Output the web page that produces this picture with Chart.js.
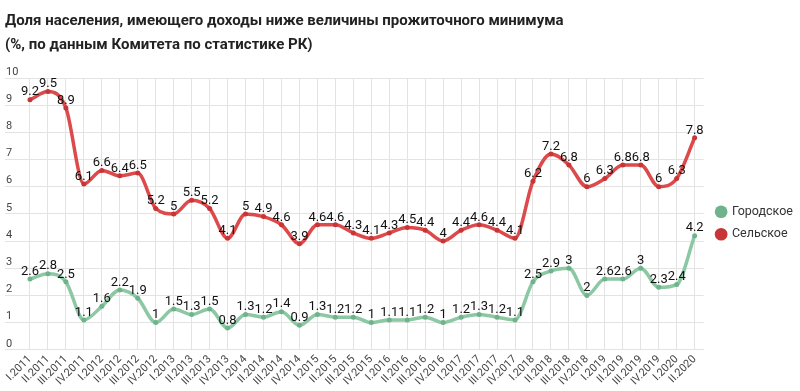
<!DOCTYPE html>
<html lang="ru">
<head>
  <meta charset="UTF-8">
  <title>Доля населения ниже прожиточного минимума</title>
  <script src="https://cdn.jsdelivr.net/npm/chart.js"></script>
  <style>
    body { margin: 0; background: #fff; }
    #wrap { width: 800px; height: 391px; }
  </style>
</head>
<body>
  <div id="wrap"><canvas id="myChart" width="800" height="391"></canvas></div>

  <script>
    // Quarters I.2011 .. II.2020
    const quarters = [
      'I.2011', 'II.2011', 'III.2011', 'IV.2011',
      'I.2012', 'II.2012', 'III.2012', 'IV.2012',
      'I.2013', 'II.2013', 'III.2013', 'IV.2013',
      'I.2014', 'II.2014', 'III.2014', 'IV.2014',
      'I.2015', 'II.2015', 'III.2015', 'IV.2015',
      'I.2016', 'II.2016', 'III.2016', 'IV.2016',
      'I.2017', 'II.2017', 'III.2017', 'IV.2017',
      'I.2018', 'II.2018', 'III.2018', 'IV.2018',
      'I.2019', 'II.2019', 'III.2019', 'IV.2019',
      'I.2020', 'II.2020'
    ];

    const urban = [
      2.6, 2.8, 2.5, 1.1,
      1.6, 2.2, 1.9, 1,
      1.5, 1.3, 1.5, 0.8,
      1.3, 1.2, 1.4, 0.9,
      1.3, 1.2, 1.2, 1,
      1.1, 1.1, 1.2, 1,
      1.2, 1.3, 1.2, 1.1,
      2.5, 2.9, 3, 2,
      2.6, 2.6, 3, 2.3,
      2.4, 4.2
    ];

    const rural = [
      9.2, 9.5, 8.9, 6.1,
      6.6, 6.4, 6.5, 5.2,
      5, 5.5, 5.2, 4.1,
      5, 4.9, 4.6, 3.9,
      4.6, 4.6, 4.3, 4.1,
      4.3, 4.5, 4.4, 4,
      4.4, 4.6, 4.4, 4.1,
      6.2, 7.2, 6.8, 6,
      6.3, 6.8, 6.8, 6,
      6.3, 7.8
    ];

    const yTicks = [0, 1, 2, 3, 4, 5, 6, 7, 8, 9, 10];

    // simple value labels above each point
    const valueLabels = {
      id: 'valueLabels',
      afterDatasetsDraw(chart) {
        const ctx = chart.ctx;
        ctx.save();
        ctx.font = '13px Roboto';
        ctx.fillStyle = '#111';
        ctx.textAlign = 'center';
        ctx.textBaseline = 'bottom';
        chart.data.datasets.forEach((ds, i) => {
          chart.getDatasetMeta(i).data.forEach((pt, j) => {
            ctx.fillText(String(ds.data[j]), pt.x, pt.y - 1);
          });
        });
        ctx.restore();
      }
    };

    // legend sits a bit lower and to the right in the original
    const nudgeLegend = {
      id: 'nudgeLegend',
      afterLayout(chart) {
        const lg = chart.legend;
        lg.top += 23; lg.bottom += 23;
        lg.left += 3; lg.right += 3;
      }
    };

    const ctx = document.getElementById('myChart').getContext('2d');
    new Chart(ctx, {
      type: 'line',
      data: {
        labels: quarters,
        datasets: [
          {
            label: 'Городское',
            data: urban,
            borderColor: '#8cc8a4',
            backgroundColor: '#8cc8a4',
            pointBackgroundColor: '#6fb38b',
            pointBorderWidth: 0,
            pointRadius: 2.5,
            borderWidth: 3.5,
            cubicInterpolationMode: 'monotone'
          },
          {
            label: 'Сельское',
            data: rural,
            borderColor: '#dc4a4c',
            backgroundColor: '#dc4a4c',
            pointBackgroundColor: '#c83537',
            pointBorderWidth: 0,
            pointRadius: 2.5,
            borderWidth: 3.5,
            cubicInterpolationMode: 'monotone'
          }
        ]
      },
      options: {
        responsive: false,
        animation: false,
        layout: { padding: { left: 5, right: 0, top: 9, bottom: 0 } },
        plugins: {
          title: {
            display: true,
            align: 'start',
            text: [
              'Доля населения, имеющего доходы ниже величины прожиточного минимума',
              '(%, по данным Комитета по статистике РК)'
            ],
            color: '#222',
            font: { family: 'Roboto', size: 15, weight: 'bold', lineHeight: 1.6 },
            padding: { top: 0, bottom: 21 }
          },
          legend: {
            position: 'right',
            labels: {
              usePointStyle: true,
              pointStyle: 'circle',
              boxWidth: 9,
              boxHeight: 9,
              padding: 10,
              color: '#333',
              font: { family: 'Roboto', size: 12.5 }
            }
          },
          tooltip: { enabled: false }
        },
        scales: {
          x: {
            offset: true,
            grid: { offset: false, color: '#e3e3e3', drawTicks: false },
            border: { color: '#e3e3e3' },
            ticks: {
              autoSkip: false,
              maxRotation: 45,
              minRotation: 45,
              padding: 3,
              color: '#444',
              font: { family: 'Roboto', size: 11 }
            }
          },
          y: {
            min: 0,
            max: 10,
            afterBuildTicks: axis => { axis.ticks = yTicks.map(v => ({ value: v })); },
            afterFit: axis => { axis.width = 16; },
            grid: { color: '#e3e3e3', drawTicks: true, tickLength: 16 },
            border: { display: false },
            ticks: {
              mirror: true,
              labelOffset: -6,
              padding: -15,
              color: '#444',
              font: { family: 'Roboto', size: 11 }
            }
          }
        }
      },
      plugins: [valueLabels, nudgeLegend]
    });
  </script>
</body>
</html>
